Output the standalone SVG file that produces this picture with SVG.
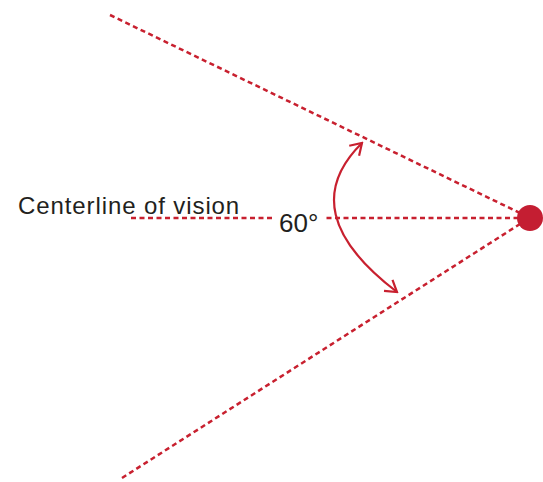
<svg xmlns="http://www.w3.org/2000/svg" width="543" height="482" viewBox="0 0 543 482">
<style>
.d{stroke:#c8202f;stroke-width:2.5;stroke-dasharray:5 3.5;fill:none}
.a{stroke:#c8202f;stroke-width:2.2;fill:none}
.t{font-family:"Liberation Sans",Arial,sans-serif;fill:#231f20}
</style>
<defs>
<marker id="ah" viewBox="-12 -8 14 16" markerWidth="14" markerHeight="16" refX="0" refY="0" orient="auto-start-reverse" markerUnits="userSpaceOnUse">
<path d="M-11,-7 L0,0 L-11,7" fill="none" stroke="#c8202f" stroke-width="2.2"/>
</marker>
</defs>
<g id="connectors">
<line class="d" x1="110" y1="15" x2="520" y2="213"/>
<line class="d" x1="122" y1="478" x2="520" y2="224"/>
<line class="d" x1="131" y1="218" x2="520" y2="218"/>
<path class="a" d="M362,143 Q292,212 397,292" marker-start="url(#ah)" marker-end="url(#ah)"/>
</g>
<g id="eye"><circle cx="530" cy="218" r="13" fill="#c41e32"/></g>
<g id="label-centerline"><text class="t" x="18" y="214" font-size="24" letter-spacing="0.9">Centerline of vision</text></g>
<g id="label-angle">
<rect x="273" y="208" width="51" height="26" fill="#fff"/>
<text class="t" x="279" y="232" font-size="26">60°</text>
</g>
</svg>
